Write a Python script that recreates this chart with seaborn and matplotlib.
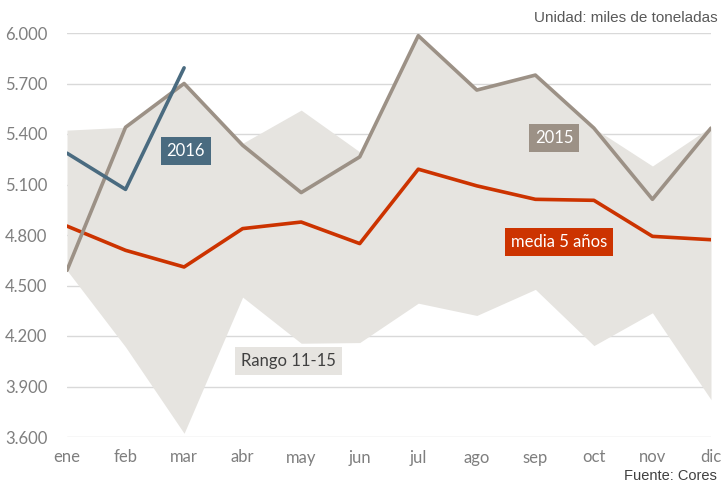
import numpy as np
import pandas as pd
import seaborn as sns
import matplotlib
matplotlib.use("Agg")
import matplotlib.pyplot as plt

# datos (miles de toneladas)
meses = ["ene", "feb", "mar", "abr", "may", "jun", "jul", "ago", "sep", "oct", "nov", "dic"]
rango_max = [5423, 5440, 5700, 5345, 5542, 5294, 5984, 5661, 5750, 5435, 5210, 5443]
rango_min = [4590, 4135, 3622, 4431, 4157, 4161, 4395, 4322, 4477, 4143, 4338, 3822]
media_5 = [4853, 4709, 4610, 4838, 4877, 4749, 5191, 5092, 5012, 5006, 4792, 4772]
serie_2015 = [4590, 5440, 5700, 5333, 5052, 5264, 5984, 5661, 5750, 5435, 5012, 5435]
serie_2016 = [5286, 5071, 5793]

c_band = "#e6e4e0"
c_2015 = "#9c9186"
c_2016 = "#4a6b80"
c_media = "#cc3300"
c_tick = "#7f7f7f"

sns.set_style("white")
plt.rcParams['font.family'] = ['Lato', 'DejaVu Sans']

x = np.arange(len(meses))
df = pd.DataFrame({"x": x, "media": media_5, "y2015": serie_2015})
df16 = pd.DataFrame({"x": x[:len(serie_2016)], "y2016": serie_2016})

fig = plt.figure(figsize=(7.23, 4.84), dpi=100)
ax = fig.add_axes([67/723, 1-437/484, (711-67)/723, (437-33)/484])

ax.fill_between(x, rango_min, rango_max, color=c_band, lw=0, zorder=1)
sns.lineplot(data=df, x="x", y="media", color=c_media, lw=2.6, ax=ax, zorder=3)
sns.lineplot(data=df, x="x", y="y2015", color=c_2015, lw=2.6, ax=ax, zorder=3)
sns.lineplot(data=df16, x="x", y="y2016", color=c_2016, lw=2.6, ax=ax, zorder=4)

ax.set_xlim(0, 11)
ax.set_ylim(3600, 6000)
ax.set_yticks(np.arange(3600, 6001, 300))
ax.set_yticklabels([f"{v:,}".replace(",", ".") for v in range(3600, 6001, 300)])
ax.set_xticks(x)
ax.set_xticklabels(meses)
ax.grid(axis="y", color="#d9d9d9", lw=1, zorder=0)
ax.set_axisbelow(True)
for s in ax.spines.values():
    s.set_visible(False)
ax.tick_params(axis="both", length=0, labelsize=12, labelcolor=c_tick)
ax.tick_params(axis="x", pad=9)
ax.tick_params(axis="y", pad=14)
ax.set_xlabel("")
ax.set_ylabel("")

box = dict(boxstyle="square,pad=0.36", lw=0)
ax.text(2.03, 5300, "2016", color="white", fontsize=12, ha="center", va="center",
        bbox=dict(box, fc=c_2016), zorder=5)
ax.text(8.32, 5378, "2015", color="white", fontsize=12, ha="center", va="center",
        bbox=dict(box, fc=c_2015), zorder=5)
ax.text(8.41, 4759, "media 5 años", color="white", fontsize=12, ha="center", va="center",
        bbox=dict(box, fc=c_media), zorder=5)
ax.text(3.78, 4051, "Rango 11-15", color="#404040", fontsize=12, ha="center", va="center",
        bbox=dict(box, fc=c_band), zorder=5)

fig.text(0.993, 0.963, "Unidad: miles de toneladas", ha="right", va="center",
         fontsize=11, color="#595959", family=["Liberation Sans", "DejaVu Sans"])
fig.text(0.991, 0.002, "Fuente: Cores", ha="right", va="bottom",
         fontsize=10.5, color="#404040", family=["Liberation Sans", "DejaVu Sans"])

fig.savefig("out.png", dpi=100)
